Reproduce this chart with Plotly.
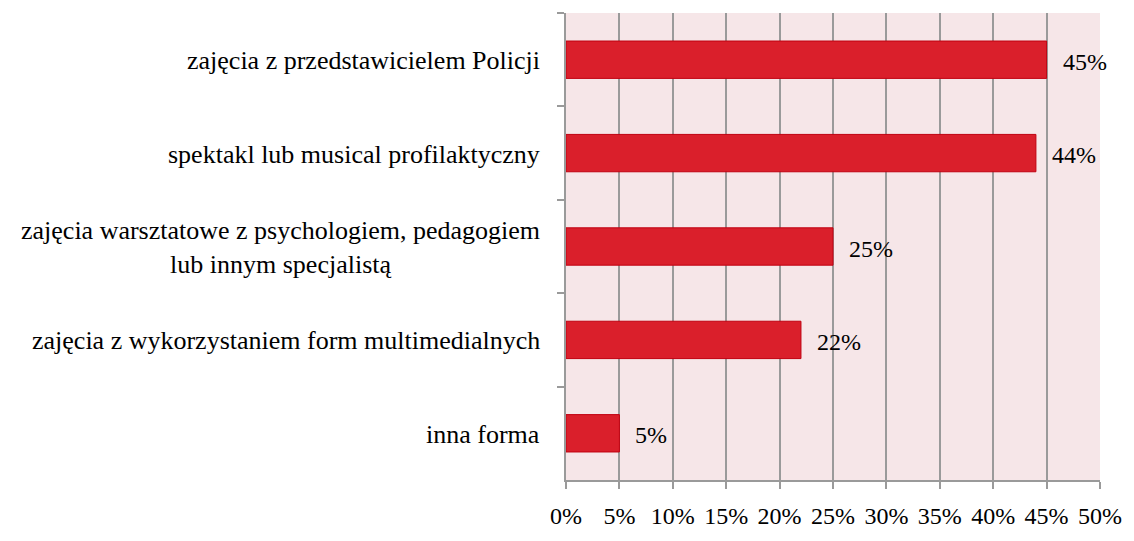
import plotly.graph_objects as go

# Survey results: preferred forms of prevention classes (share of answers, %)
categories = [
    "zajęcia z przedstawicielem Policji",
    "spektakl lub musical profilaktyczny",
    "zajęcia warsztatowe z psychologiem, pedagogiem<br>lub innym specjalistą",
    "zajęcia z wykorzystaniem form multimedialnych",
    "inna forma",
]
values = [45, 44, 25, 22, 5]
x_ticks = [0, 5, 10, 15, 20, 25, 30, 35, 40, 45, 50]
x_tick_labels = [f"{t}%" for t in x_ticks]

FONT = "Liberation Serif, 'Times New Roman', Times, serif"
GRID = "#9a9a9a"

fig = go.Figure(
    go.Bar(
        x=values,
        y=categories,
        orientation="h",
        marker=dict(color="#DA1F2B", line=dict(color="#C00010", width=1)),
        hoverinfo="skip",
    )
)

# value labels to the right of each bar
for cat, val in zip(categories, values):
    fig.add_annotation(
        x=val, y=cat, xref="x", yref="y",
        text=f"{val}%", showarrow=False,
        xanchor="left", xshift=14, yshift=-2,
        font=dict(family=FONT, size=24, color="#000"),
    )

# category labels, right-aligned block with centred lines
for cat in categories:
    fig.add_annotation(
        x=0, y=cat, xref="paper", yref="y",
        text=cat, showarrow=False,
        xanchor="right", align="center", xshift=-24, yshift=-1,
        font=dict(family=FONT, size=26, color="#000"),
    )

fig.update_layout(
    width=1134, height=541,
    margin=dict(l=566, r=28, t=13, b=44),
    paper_bgcolor="white",
    plot_bgcolor="#F6E6E8",
    bargap=0.6,
    showlegend=False,
    font=dict(family=FONT, size=24, color="#000"),
)

fig.update_xaxes(
    range=[0, 50],
    tickvals=x_ticks, ticktext=x_tick_labels,
    showgrid=True, gridcolor=GRID, gridwidth=1.5,
    showline=True, linecolor=GRID, linewidth=1.5,
    ticks="outside", ticklen=7, tickcolor=GRID, tickwidth=1.5,
    ticklabelstandoff=6,
    tickfont=dict(family=FONT, size=24, color="#000"),
    zeroline=False, fixedrange=True,
)

fig.update_yaxes(
    type="category",
    categoryorder="array", categoryarray=categories,
    autorange="reversed",
    showticklabels=False,
    showgrid=False,
    showline=True, linecolor=GRID, linewidth=1.5,
    ticks="outside", ticklen=7, tickcolor=GRID, tickwidth=1.5,
    tickson="boundaries",
    zeroline=False, fixedrange=True,
)

fig.write_html("out.html", config={"displayModeBar": False})
